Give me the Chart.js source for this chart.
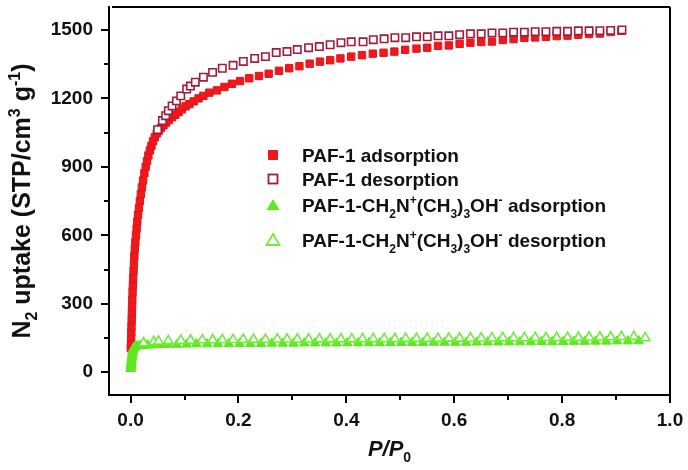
<!DOCTYPE html>
<html><head><meta charset="utf-8">
<script src="https://cdn.jsdelivr.net/npm/chart.js@4/dist/chart.umd.min.js"></script>
<style>html,body{margin:0;padding:0;background:#fff}canvas{display:block}</style>
</head><body>
<canvas id="c" width="688" height="470"></canvas>
<script>
// ---------- data ----------
const xTicks = [0, 0.2, 0.4, 0.6, 0.8, 1.0];
const xMinorTicks = [0.1, 0.3, 0.5, 0.7, 0.9];
const yTicks = [0, 300, 600, 900, 1200, 1500];
const yMinorTicks = [150, 450, 750, 1050, 1350];

const seriesLabels = [
  'PAF-1 adsorption',
  'PAF-1 desorption',
  'PAF-1-CH_{2}N^{+}(CH_{3})_{3}OH^{-} adsorption',
  'PAF-1-CH_{2}N^{+}(CH_{3})_{3}OH^{-} desorption'
];

// [P/P0, N2 uptake]
const pafAdsorption = [
  [0.0005,105],[0.0008,125],[0.0011,150],[0.0014,175],[0.0017,200],[0.002,228],[0.0024,258],[0.0028,288],
  [0.0032,318],[0.0037,350],[0.0042,380],[0.0048,412],[0.0055,445],[0.0062,478],[0.007,508],[0.0079,540],
  [0.0089,570],[0.01,600],[0.0112,630],[0.0125,660],[0.0139,690],[0.0155,720],[0.0172,750],[0.019,780],
  [0.021,810],[0.0232,840],[0.0256,872],[0.028,900],[0.0305,925],[0.033,950],[0.0358,972],[0.0387,992],
  [0.0418,1012],[0.045,1030],[0.0485,1046],[0.052,1058],[0.056,1070],[0.061,1082],[0.066,1094],[0.071,1105],
  [0.077,1117],[0.083,1128],[0.089,1140],[0.095,1152],[0.102,1165],[0.109,1175],[0.117,1187],[0.126,1200],
  [0.135,1211],[0.146,1225],[0.16,1235],[0.174,1250],[0.188,1264],[0.203,1276],[0.22,1288],[0.238,1298],
  [0.256,1308],[0.275,1321],[0.294,1332],[0.313,1341],[0.332,1352],[0.351,1361],[0.37,1367],[0.389,1375],
  [0.409,1383],[0.429,1389],[0.449,1396],[0.469,1400],[0.489,1405],[0.509,1413],[0.53,1418],[0.55,1422],
  [0.57,1430],[0.59,1432],[0.61,1439],[0.63,1444],[0.65,1447],[0.67,1449],[0.69,1456],[0.71,1460],
  [0.73,1465],[0.75,1467],[0.77,1470],[0.79,1473],[0.81,1475],[0.83,1479],[0.85,1482],[0.87,1484],
  [0.89,1491],[0.91,1496]
];
const pafDesorption = [
  [0.050,1063],[0.059,1103],[0.065,1124],[0.070,1146],[0.077,1167],[0.085,1189],[0.093,1211],[0.104,1241],
  [0.111,1254],[0.120,1271],[0.135,1293],[0.152,1314],[0.170,1332],[0.190,1345],[0.209,1362],[0.230,1375],
  [0.250,1383],[0.270,1401],[0.290,1405],[0.309,1414],[0.330,1422],[0.350,1427],[0.370,1435],[0.390,1444],
  [0.409,1448],[0.431,1448],[0.450,1457],[0.470,1461],[0.490,1466],[0.510,1466],[0.530,1470],[0.550,1470],
  [0.570,1474],[0.590,1474],[0.610,1479],[0.630,1483],[0.650,1483],[0.670,1487],[0.690,1487],[0.710,1490],
  [0.730,1490],[0.750,1492],[0.770,1492],[0.790,1494],[0.810,1494],[0.830,1496],[0.850,1496],[0.870,1497],
  [0.890,1498],[0.911,1500]
];
const quatAdsorption = [
  [0.0003,15],[0.0005,20],[0.0007,26],[0.0009,32],[0.0011,38],[0.0013,44],[0.0016,51],[0.0019,58],
  [0.0022,65],[0.0026,72],[0.003,79],[0.0035,86],[0.0041,93],[0.0048,99],[0.0056,104],[0.0066,108],
  [0.0078,111],[0.0092,113],[0.011,114],[0.014,115],[0.018,116],[0.024,117],[0.032,118],[0.042,119],
  [0.055,120],[0.07,121],[0.086,121],[0.104,122],[0.122,123],[0.142,123],[0.162,124],[0.182,124],
  [0.202,125],[0.222,125],[0.242,125],[0.262,126],[0.282,126],[0.302,126],[0.322,127],[0.342,127],
  [0.362,127],[0.382,127],[0.402,128],[0.422,128],[0.442,128],[0.462,128],[0.482,129],[0.502,129],
  [0.522,129],[0.542,129],[0.562,130],[0.582,130],[0.602,130],[0.622,130],[0.642,131],[0.662,131],
  [0.682,131],[0.702,132],[0.722,132],[0.742,132],[0.762,133],[0.782,133],[0.802,133],[0.822,134],
  [0.842,134],[0.862,135],[0.882,135],[0.902,136],[0.922,136],[0.942,137]
];
const quatDesorption = [
  [0.024,128],[0.043,133],[0.052,135],[0.070,137],[0.093,139],[0.111,140],[0.133,141],[0.152,141],
  [0.170,142],[0.190,142],[0.209,143],[0.228,143],[0.250,143],[0.272,144],[0.290,144],[0.309,144],
  [0.330,144],[0.350,145],[0.370,145],[0.390,145],[0.410,145],[0.430,146],[0.450,146],[0.470,146],
  [0.490,146],[0.510,147],[0.530,147],[0.550,147],[0.570,147],[0.590,148],[0.610,148],[0.630,149],
  [0.650,149],[0.670,149],[0.690,150],[0.710,150],[0.730,150],[0.750,151],[0.770,151],[0.790,151],
  [0.810,152],[0.830,152],[0.850,153],[0.870,153],[0.890,154],[0.910,155],[0.933,156],[0.954,150]
];

const xTitle = 'P/P_{0}';
const yTitle = 'N_{2} uptake (STP/cm^{3} g^{-1})';

// ---------- styling ----------
const FONT = '"Liberation Sans", Arial, Helvetica, sans-serif';
const RED = '#f01818', RED_EDGE = '#e3131f', DARKRED = '#a01c3a';
const GREEN = '#5ee81e', GREEN_OPEN = '#6cee38';

function parseRuns(s) {
  const out = [];
  const re = /_\{([^}]*)\}|\^\{([^}]*)\}|([^_^]+)/g;
  let m;
  while ((m = re.exec(s))) {
    if (m[1] !== undefined) out.push({t: m[1], k: 'sub'});
    else if (m[2] !== undefined) out.push({t: m[2], k: 'sup'});
    else out.push({t: m[3], k: ''});
  }
  return out;
}
function drawRich(ctx, s, x, yc, size, style, subStyle, align) {
  const runs = parseRuns(s);
  const small = Math.round(size * 0.62);
  const fontFor = r => (r.k ? (subStyle + ' ' + small) : (style + ' ' + size)) + 'px ' + FONT;
  let w = 0;
  runs.forEach(r => { ctx.font = fontFor(r); r.w = ctx.measureText(r.t).width; w += r.w; });
  let cx = align === 'center' ? x - w / 2 : x;
  const base = yc + size * 0.716 / 2;
  ctx.textBaseline = 'alphabetic';
  ctx.textAlign = 'left';
  runs.forEach(r => {
    ctx.font = fontFor(r);
    const dy = r.k === 'sub' ? size * 0.30 : r.k === 'sup' ? -size * 0.40 : 0;
    ctx.fillText(r.t, cx, base + dy);
    cx += r.w;
  });
}

const decorPlugin = {
  id: 'decor',
  beforeDatasetsDraw(chart) {
    const {ctx, chartArea: a, scales} = chart;
    ctx.save();
    ctx.strokeStyle = '#000';
    ctx.lineWidth = 2;
    ctx.beginPath();
    ctx.moveTo(a.left + 3, a.top); ctx.lineTo(a.right, a.top);
    ctx.moveTo(a.right, a.top); ctx.lineTo(a.right, a.bottom);
    yMinorTicks.forEach(v => { const p = Math.round(scales.y.getPixelForValue(v)); ctx.moveTo(a.left, p); ctx.lineTo(a.left - 5, p); });
    xMinorTicks.forEach(v => { const p = Math.round(scales.x.getPixelForValue(v)); ctx.moveTo(p, a.bottom); ctx.lineTo(p, a.bottom + 5); });
    ctx.stroke();
    ctx.restore();
  },
  afterDraw(chart) {
    const {ctx, chartArea: a} = chart;
    ctx.save();
    ctx.fillStyle = '#111';
    drawRich(ctx, xTitle, (a.left + a.right) / 2, 448, 22, 'italic bold', 'bold', 'center');
    ctx.save();
    ctx.translate(21, (a.top + a.bottom) / 2);
    ctx.rotate(-Math.PI / 2);
    drawRich(ctx, yTitle, 0, 0, 25, 'bold', 'bold', 'center');
    ctx.restore();
    // legend
    const lx = 273, tx = 302, ys = [155, 179, 205, 240];
    ctx.fillStyle = RED; ctx.fillRect(lx - 5, ys[0] - 5, 10, 10);
    ctx.fillStyle = '#fff'; ctx.strokeStyle = DARKRED; ctx.lineWidth = 1.8;
    ctx.fillRect(lx - 5, ys[1] - 5, 10, 10); ctx.strokeRect(lx - 4.5, ys[1] - 4.5, 9, 9);
    const tri = (cy) => { ctx.beginPath(); ctx.moveTo(lx, cy - 6); ctx.lineTo(lx + 6.5, cy + 5); ctx.lineTo(lx - 6.5, cy + 5); ctx.closePath(); };
    ctx.fillStyle = GREEN; tri(ys[2]); ctx.fill();
    ctx.fillStyle = '#fff'; ctx.strokeStyle = GREEN_OPEN; ctx.lineWidth = 1.8; tri(ys[3]); ctx.fill(); ctx.stroke();
    ctx.fillStyle = '#111';
    seriesLabels.forEach((s, i) => drawRich(ctx, s, tx, ys[i], 19, 'bold', 'bold', 'left'));
    ctx.restore();
  }
};

const toXY = arr => arr.map(([x, y]) => ({x, y}));
const tickFont = {family: FONT, size: 19, weight: 'bold'};

new Chart(document.getElementById('c'), {
  type: 'scatter',
  data: {
    datasets: [
      {label: seriesLabels[0], data: toXY(pafAdsorption), pointStyle: 'rect', pointRadius: 5.2,
       backgroundColor: RED, borderColor: RED_EDGE, borderWidth: 1, order: 4},
      {label: seriesLabels[1], data: toXY(pafDesorption), pointStyle: 'rect', pointRadius: 5.2,
       backgroundColor: '#fff', borderColor: DARKRED, borderWidth: 1.6, order: 3},
      {label: seriesLabels[2], data: toXY(quatAdsorption), pointStyle: 'triangle', pointRadius: 5.5,
       backgroundColor: GREEN, borderColor: GREEN, borderWidth: 1, order: 2},
      {label: seriesLabels[3], data: toXY(quatDesorption), pointStyle: 'triangle', pointRadius: 5.5,
       backgroundColor: '#fff', borderColor: GREEN_OPEN, borderWidth: 1.6, order: 1}
    ]
  },
  options: {
    responsive: false, animation: false, devicePixelRatio: 1, events: [],
    layout: {padding: {left: 0, top: 3, right: 18, bottom: 0}},
    plugins: {legend: {display: false}, tooltip: {enabled: false}},
    scales: {
      x: {
        type: 'linear', min: -0.04, max: 1.0,
        afterBuildTicks: s => { s.ticks = xTicks.map(v => ({value: v})); },
        afterFit: s => { s.height = 75; s.paddingLeft = 0; s.paddingRight = 0; },
        ticks: {callback: v => Number(v).toFixed(1), font: tickFont, color: '#111', padding: 6, maxRotation: 0, autoSkip: false},
        grid: {drawOnChartArea: false, drawTicks: true, tickLength: 8, color: '#000', lineWidth: 2},
        border: {display: true, color: '#000', width: 2}
      },
      y: {
        type: 'linear', min: -100, max: 1600,
        afterBuildTicks: s => { s.ticks = yTicks.map(v => ({value: v})); },
        afterFit: s => { s.width = 109; s.paddingTop = 0; s.paddingBottom = 0; },
        ticks: {callback: v => String(v), font: tickFont, color: '#111', padding: 8, autoSkip: false},
        grid: {drawOnChartArea: false, drawTicks: true, tickLength: 8, color: '#000', lineWidth: 2},
        border: {display: true, color: '#000', width: 2}
      }
    }
  },
  plugins: [decorPlugin]
});
</script>
</body></html>
